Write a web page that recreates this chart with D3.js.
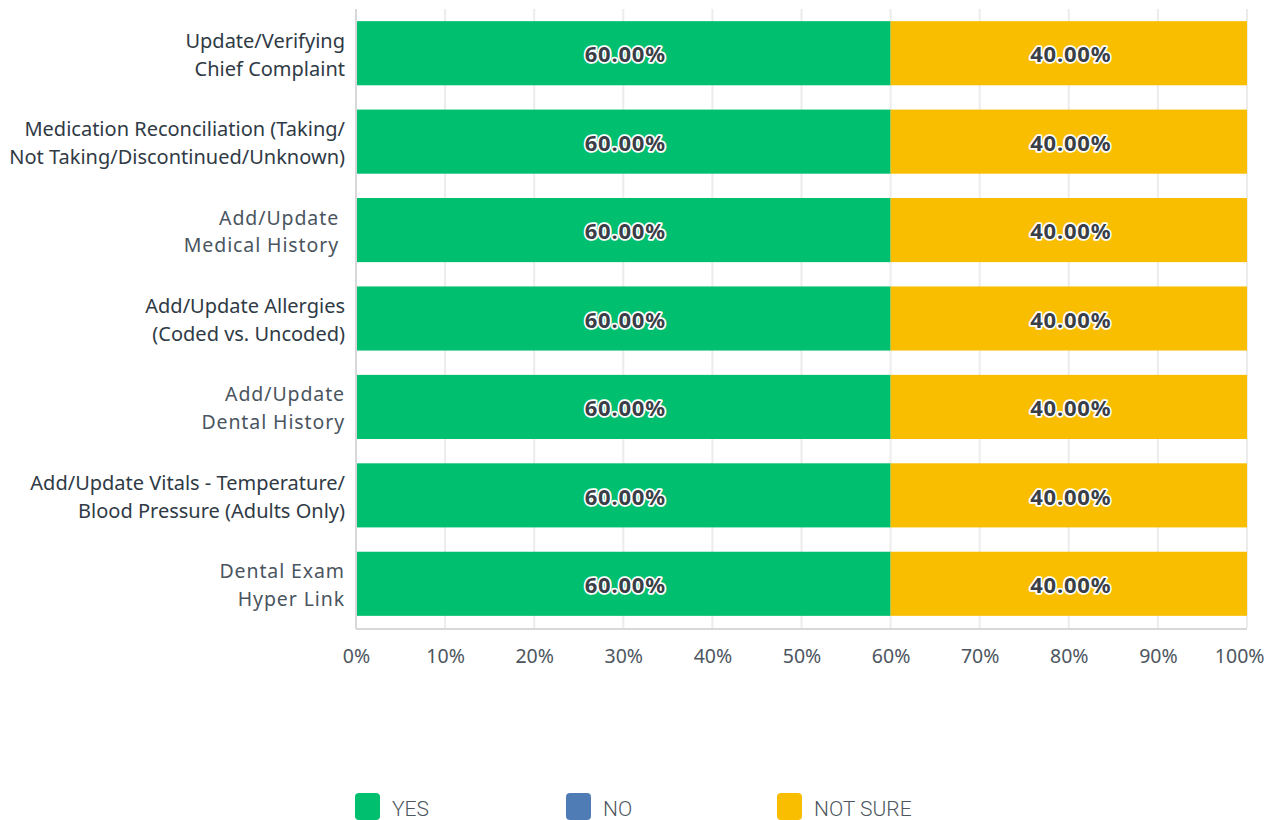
<!DOCTYPE html>
<html><head><meta charset="utf-8">
<script src="https://cdn.jsdelivr.net/npm/d3@7"></script>
<style>body{margin:0;background:#fff;}svg{display:block;}</style>
</head><body>
<script>
const categories = [
  ["Update/Verifying","Chief Complaint"],
  ["Medication Reconciliation (Taking/","Not Taking/Discontinued/Unknown)"],
  ["Add/Update ","Medical History "],
  ["Add/Update Allergies","(Coded vs. Uncoded)"],
  ["Add/Update","Dental History"],
  ["Add/Update Vitals - Temperature/","Blood Pressure (Adults Only)"],
  ["Dental Exam","Hyper Link"]
];
const seriesNames = ["YES","NO","NOT SURE"];
const seriesColors = ["#00bf6f","#507cb6","#f9be00"];
const yesValues = [60,60,60,60,60,60,60];
const noValues = [0,0,0,0,0,0,0];
const notSureValues = [40,40,40,40,40,40,40];
const tickValues = [0,10,20,30,40,50,60,70,80,90,100];

const W=1267,H=820;
const svg=d3.select("body").append("svg").attr("width",W).attr("height",H);
const m={left:356,right:20,top:9,bottom:192};
const x=d3.scaleLinear().domain([0,100]).range([m.left,W-m.right]);
const y=d3.scaleBand().domain(d3.range(categories.length)).range([m.top,H-m.bottom]).paddingInner(0.275).paddingOuter(0.1375);

// gridlines
svg.append("g").selectAll("line").data(tickValues).join("line")
  .attr("x1",d=>x(d)).attr("x2",d=>x(d)).attr("y1",m.top).attr("y2",H-m.bottom)
  .attr("stroke","#ececec").attr("stroke-width",2);

const series=[yesValues,noValues,notSureValues];
const rows=categories.map((c,i)=>({i,vals:series.map(s=>s[i])}));
rows.forEach(r=>{
  let acc=0;
  r.vals.forEach((v,k)=>{
    if(v>0){
      svg.append("rect").attr("x",x(acc)).attr("y",y(r.i)).attr("width",x(acc+v)-x(acc)).attr("height",y.bandwidth()).attr("fill",seriesColors[k]);
      svg.append("text").attr("x",(x(acc)+x(acc+v))/2+2).attr("y",y(r.i)+y.bandwidth()/2).attr("dy","0.42em")
        .attr("text-anchor","middle").attr("font-family","Noto Sans, sans-serif").attr("font-weight","bold").attr("font-size",22)
        .attr("letter-spacing","0.8")
        .attr("fill","#3a3f47").attr("stroke","#fff").attr("stroke-width",3.5).attr("stroke-linejoin","round").attr("paint-order","stroke")
        .text(v.toFixed(2)+"%");
    }
    acc+=v;
  });
});

// axes lines
svg.append("line").attr("x1",m.left).attr("x2",m.left).attr("y1",m.top).attr("y2",H-m.bottom+1).attr("stroke","#d8d8d8").attr("stroke-width",2);
svg.append("line").attr("x1",m.left).attr("x2",W-m.right).attr("y1",H-m.bottom+1).attr("y2",H-m.bottom+1).attr("stroke","#d8d8d8").attr("stroke-width",2);

// x axis
const xa=svg.append("g").attr("transform",`translate(0,${H-m.bottom+1})`)
  .call(d3.axisBottom(x).tickValues(tickValues).tickFormat(d=>d+"%").tickSize(0).tickPadding(20));
xa.select(".domain").remove();
xa.selectAll("text").attr("font-family","Noto Sans, sans-serif").attr("font-size",19.5).attr("fill","#4d5660");
xa.selectAll(".tick").filter(d=>d===100).select("text").attr("text-anchor","end").attr("dx",17);

// y labels
const wideLines = new Set(["2-0","2-1","4-0","4-1","6-0","6-1"]);
categories.forEach((c,i)=>{
  const t=svg.append("text").attr("text-anchor","end").attr("font-family","Noto Sans, sans-serif").attr("font-size",20).attr("fill","#2f3a45")
    .attr("y",y(i)+y.bandwidth()/2).attr("xml:space","preserve");
  c.forEach((line,j)=>{
    const ts=t.append("tspan").attr("x",345).attr("dy",j===0?"-0.28em":"1.42em").text(line);
    if(wideLines.has(i+"-"+j)) ts.attr("letter-spacing","0.9").attr("fill","#4a5560").attr("font-size",19.5);
  });
});

// legend
const lg=svg.append("g");
seriesNames.forEach((n,k)=>{
  const lx=355+k*211;
  lg.append("rect").attr("x",lx).attr("y",793).attr("width",25).attr("height",27).attr("rx",4).attr("fill",seriesColors[k]);
  lg.append("text").attr("x",lx+37).attr("y",816).attr("font-family","Roboto, sans-serif").attr("font-weight",300).attr("font-size",21).attr("fill","#4d5660").text(n);
});
</script>
</body></html>
